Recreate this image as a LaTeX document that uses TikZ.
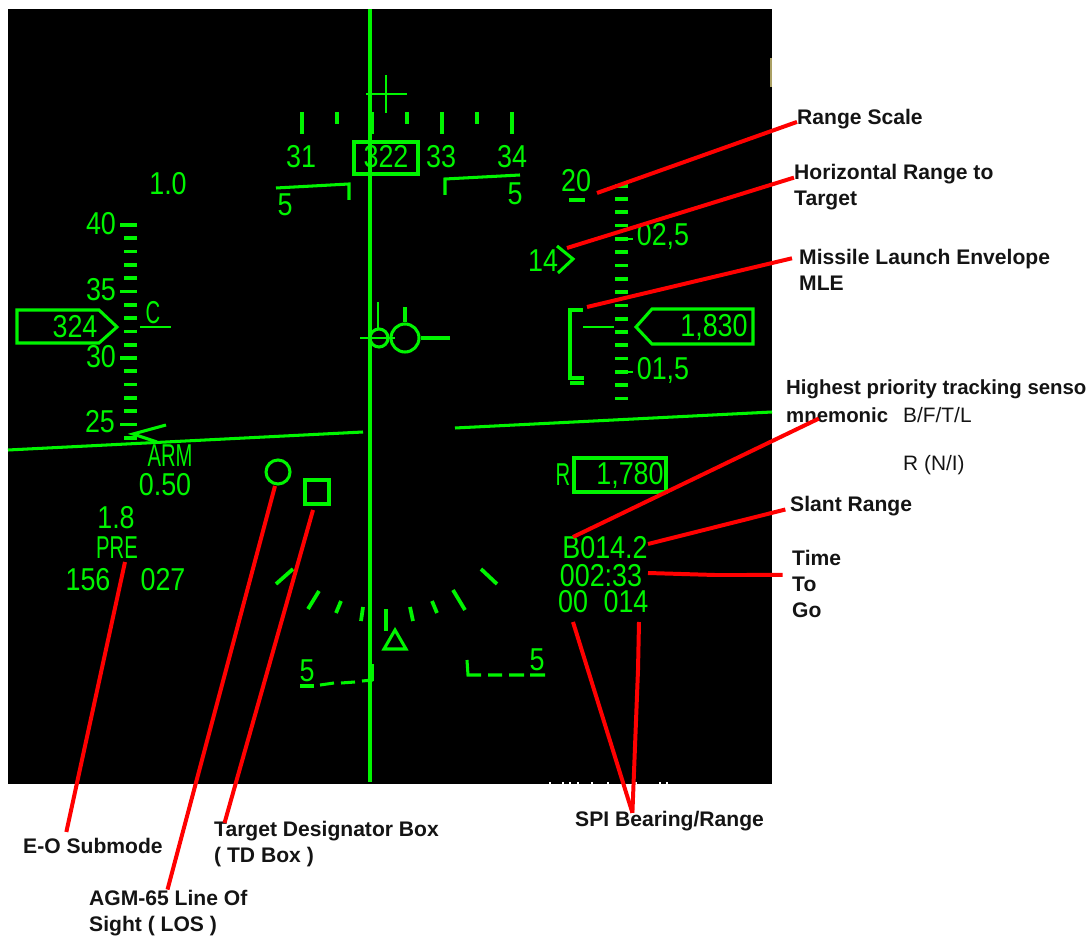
\documentclass[tikz,border=0pt]{standalone}
\usepackage{fontspec}
\usepackage{xcolor}
\usetikzlibrary{positioning}
\setmainfont{Liberation Sans}
\newfontfamily\hudfont[FakeStretch=0.85]{Liberation Sans}
\newfontfamily\hudcaps[FakeStretch=0.64]{Liberation Sans}
\definecolor{hudgreen}{RGB}{0,245,0}
\definecolor{leadred}{RGB}{255,0,0}
\definecolor{ink}{RGB}{20,20,20}
\definecolor{edgemark}{RGB}{170,160,100}

\begin{document}
\begin{tikzpicture}[x=0.03cm,y=-0.03cm,
    hudline/.style={draw=hudgreen,line width=2.6pt},
    hudthin/.style={draw=hudgreen,line width=1.7pt},
    hudtext/.style={text=hudgreen,inner sep=0pt,font=\hudfont\fontsize{27}{27}\selectfont},
    hudletter/.style={hudtext,font=\hudcaps\fontsize{27}{27}\selectfont},
    tick/.style={draw=hudgreen,line width=3.2pt},
    leader/.style={draw=leadred,line width=3.4pt},
    callout/.style={text=ink,inner sep=0pt,anchor=west,align=left,
                    font=\bfseries\fontsize{18}{22.2}\selectfont},
    plain/.style={text=ink,inner sep=0pt,anchor=west,
                    font=\fontsize{17.8}{22.2}\selectfont}]
    \useasboundingbox (0,0) rectangle (1092,937);
    \fill[black] (8,9) rectangle (772,784);
    \draw[edgemark,line width=1.2pt] (771,58)--(771,87);
    \foreach \x in {550,563,570,578,592,608,636,660,667}
        \draw[white,line width=1.4pt] (\x,782)--(\x,784);

    % heading tape
    \draw[hudline] (370,9)--(370,782);
    \draw[hudthin] (366,94)--(407,94) (386,75)--(386,113);
    \foreach \x in {302,372,442,512} \draw[hudline] (\x,112)--(\x,134);
    \foreach \x in {337,407,477} \draw[tick] (\x,112)--(\x,124);
    \node[hudtext] (h31) at (301,157) {31};
    \node[hudtext] (h322) at (386,157) {322};
    \node[hudtext] (h33) at (441,157) {33};
    \node[hudtext] (h34) at (512,157) {34};
    \draw[hudline] (354,142) rectangle (418,174);
    \draw[hudline] (276,188)--(349,184)--(349,200);
    \draw[hudline] (445,195)--(445,179)--(520,175);
    \node[hudtext] (pl5) at (285,205) {5};
    \node[hudtext] (pr5) at (515,194) {5};
    \node[hudtext] (gval) at (168,184) {1.0};

    % airspeed
    \foreach \k in {0,...,16} \draw[tick] (124,225+13.3*\k)--(137,225+13.3*\k);
    \foreach \k in {0,5,10,15} \draw[tick] (120,225+13.3*\k)--(137,225+13.3*\k);
    \node[hudtext] (s40) at (101,224) {40};
    \node[hudtext] (s35) at (101,290) {35};
    \node[hudtext] (s30) at (101,357) {30};
    \node[hudtext] (s25) at (100,422) {25};
    \draw[hudline] (17,310)--(99,310)--(117,327)--(99,343)--(17,343)--cycle;
    \node[hudtext] (cas) at (75,327) {324};
    \node[hudletter] (cmode) at (153,313) {C};
    \draw[hudthin] (140,327)--(171,327);
    \draw[hudline] (166,425)--(133,434)--(157,442);

    % flight path marker
    \node[draw=hudgreen,line width=2.6pt,circle,minimum size=28*0.03cm,inner sep=0pt] (fpm) at (405,338) {};
    \node[draw=hudgreen,line width=2.6pt,circle,minimum size=18*0.03cm,inner sep=0pt] (gun) at (379,338) {};
    \draw[hudline] (fpm.east)--(450,338) (fpm.north)--(405,307);
    \draw[hudthin] (360,338)--(395,338) (378,302)--(378,330);

    % horizon
    \draw[hudline] (8,450)--(363,432);
    \draw[hudline] (455,428)--(772,412);

    % weapon data
    \node[hudletter] (arm) at (170,456) {ARM};
    \node[hudtext] (dval) at (165,485) {0.50};
    \node[hudtext] (pval) at (116,518) {1.8};
    \node[hudletter] (pre) at (117,548) {PRE};
    \node[hudtext] (v156) at (88,580) {156};
    \node[hudtext] (v027) at (163,580) {027};
    \node[draw=hudgreen,line width=2.6pt,circle,minimum size=24*0.03cm,inner sep=0pt] (los) at (278,472) {};
    \node[draw=hudgreen,line width=2.6pt,minimum size=24*0.03cm,inner sep=0pt] (tdbox) at (317,492) {};

    % roll scale
    \draw[tick] (276,584)--(293,569) (308,609)--(319,591) (336,613)--(341,601) (361,621)--(363,607);
    \draw[tick] (410,607)--(413,621) (432,601)--(437,613) (453,590)--(465,610) (481,569)--(497,584);
    \draw[hudline] (386,609)--(386,631);
    \draw[hudline] (395,630)--(384,649)--(406,649)--cycle;

    % lower ladder
    \node[hudtext] (ll5) at (307,671) {5};
    \draw[hudline] (300,686)--(314,686);
    \draw[hudline] (320,685)--(334,683) (341,683)--(355,682) (362,681)--(373,680);
    \draw[tick] (372,664)--(372,681);
    \node[hudtext] (lr5) at (537,660) {5};
    \draw[hudline] (467,660)--(468,675)--(481,675) (488,675)--(502,675) (509,675)--(524,675) (530,675)--(545,675);

    % range scale
    \foreach \k in {-1,...,15} \draw[tick] (615,199+13.3*\k)--(628,199+13.3*\k);
    \foreach \k in {3,13} \draw[hudthin] (615,199+13.3*\k)--(633,199+13.3*\k);
    \node[hudtext] (r20) at (576,181) {20};
    \draw[tick] (569,200)--(585,200);
    \node[hudtext] (r025) at (663,236) {02,5};
    \node[hudtext] (r015) at (663,370) {01,5};
    \node[hudtext] (r14) at (543,261) {14};
    \draw[hudline] (557,246)--(573,259)--(558,273);
    \draw[hudline] (583,310)--(570,310)--(570,378)--(584,378) (570,383)--(584,383);
    \draw[hudthin] (583,327)--(614,327);
    \draw[hudline] (753,309)--(652,309)--(636,327)--(652,344)--(753,344)--cycle;
    \node[hudtext] (alt) at (714,327) {1,830};

    % steering data
    \node[hudletter] (rmode) at (563,475) {R};
    \draw[hudline] (574,458) rectangle (666,492);
    \node[hudtext] (ralt) at (630,475) {1,780};
    \node[hudtext,text height=14pt,text depth=0pt] (slant) at (605,550) {B014.2};
    \node[hudtext,text height=14pt,text depth=0pt] (ttg) at (601,578) {002:33};
    \node[hudtext,text height=14pt,text depth=0pt] (spib) at (573,604) {00};
    \node[hudtext,text height=14pt,text depth=0pt] (spir) at (626,604) {014};

    % callouts
    \node[callout] (lrange) at (797,119) {Range Scale};
    \node[callout] (lhoriz) at (794,187) {Horizontal Range to\\Target};
    \node[callout] (lmle) at (799,270) {Missile Launch Envelope\\MLE};
    \node[callout,font=\bfseries\fontsize{17.4}{23.5}\selectfont] (lsens) at (786,401) {Highest priority tracking senso\\mnemonic};
    \node[plain] (lcodes) at (903,415) {B/F/T/L};
    \node[plain] (lrn) at (903,465) {R (N/I)};
    \node[callout] (lslant) at (790,506) {Slant Range};
    \node[callout] (lttg) at (792,584) {Time\\To\\Go};
    \node[callout] (lspi) at (575,821) {SPI Bearing/Range};
    \node[callout] (leo) at (23,846) {E-O Submode};
    \node[callout] (ltd) at (214,844) {Target Designator Box\\( TD Box )};
    \node[callout] (llos) at (89,913) {AGM-65 Line Of\\Sight  ( LOS )};

    % leaders
    \coordinate (trange) at (597,193);
    \coordinate (thoriz) at (567,248);
    \coordinate (tmle) at (587,307);
    \coordinate (tsens) at (573,537);
    \coordinate (tslant) at (648,544);
    \coordinate (tttg) at (648,573);
    \coordinate (tspib) at (573,622);
    \coordinate (tspir) at (639,622);
    \coordinate (teo) at (125,562);
    \coordinate (tlos) at (275,486);
    \coordinate (ttd) at (313,510);
    \draw[leader] (trange)--([yshift=-2.5pt]lrange.west);
    \draw[leader] (thoriz)--([yshift=8pt]lhoriz.west);
    \draw[leader] (tmle)--([xshift=-6pt,yshift=10pt]lmle.west);
    \draw[leader] (tsens)--([xshift=28pt,yshift=-15pt]lsens.west);
    \draw[leader] (tslant)--([xshift=-4pt,yshift=-3pt]lslant.west);
    \draw[leader] (tttg)--(715,575)--([xshift=-8pt,yshift=7.7pt]lttg.west);
    \draw[leader] (tspib)--([xshift=49pt,yshift=7pt]lspi.west);
    \draw[leader] (tspir)--(638,670)--([xshift=49pt,yshift=7pt]lspi.west);
    \draw[leader] (teo)--([xshift=37pt,yshift=12pt]leo.west);
    \draw[leader] (tlos)--([xshift=67pt,yshift=20pt]llos.west);
    \draw[leader] (ttd)--([xshift=9pt,yshift=18pt]ltd.west);
\end{tikzpicture}
\end{document}
